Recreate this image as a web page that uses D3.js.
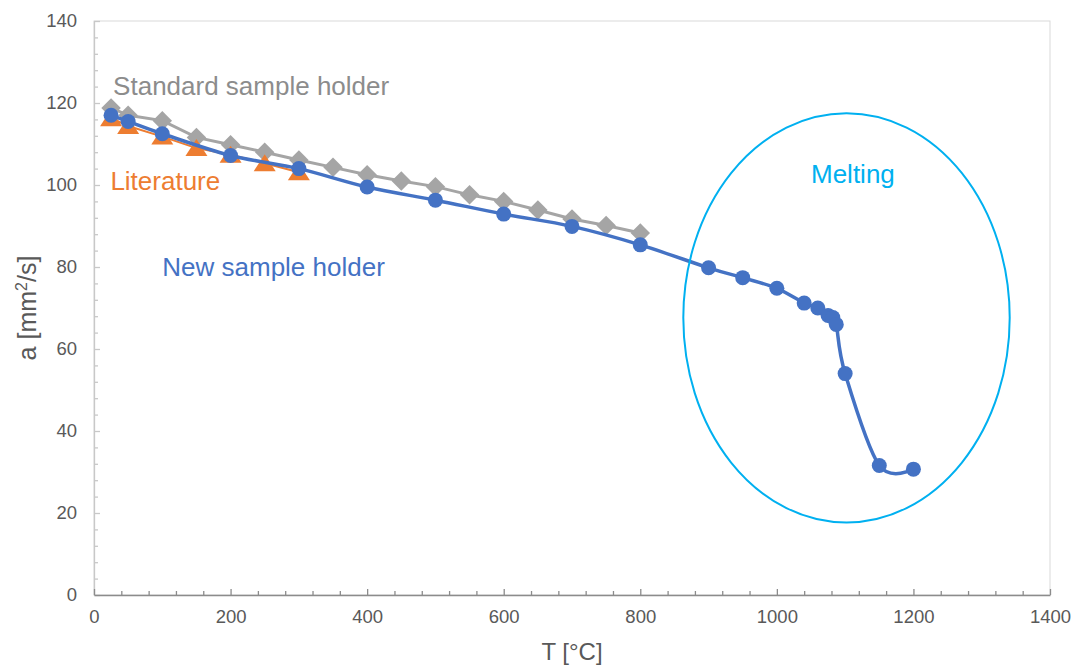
<!DOCTYPE html>
<html>
<head>
<meta charset="utf-8">
<script src="https://cdn.jsdelivr.net/npm/d3@7"></script>
<style>
  body { margin: 0; background: #fff; }
  svg { font-family: "Liberation Sans", Arial, sans-serif; }
</style>
</head>
<body>
<script>
"use strict";
// New sample holder
const newT = [25, 50, 100, 200, 300, 400, 500, 600, 700, 800, 900, 950, 1000, 1040, 1060, 1075, 1082, 1087, 1100, 1150, 1200];
const newA = [117, 115.5, 112.5, 107.2, 104, 99.5, 96.3, 92.9, 89.9, 85.4, 79.8, 77.4, 74.8, 71.2, 70, 68.2, 67.7, 66, 54, 31.6, 30.7];
// Standard sample holder
const stdT = [25, 50, 100, 150, 200, 250, 300, 350, 400, 450, 500, 550, 600, 650, 700, 750, 800];
const stdA = [118.8, 117, 115.7, 111.6, 109.8, 108, 106.1, 104.3, 102.5, 101, 99.6, 97.6, 96, 93.9, 91.7, 90.1, 88.3];
// Literature
const litT = [25, 50, 100, 150, 200, 250, 300];
const litA = [116.3, 114.4, 111.8, 109, 107.4, 105.3, 103.1];

const xTicks = [0, 200, 400, 600, 800, 1000, 1200, 1400];
const yTicks = [0, 20, 40, 60, 80, 100, 120, 140];
// melting annotation (data units): center T, center a, radius T, radius a
const melt = { t: 1102, a: 67.6, rt: 239, ra: 49.9 };

const width = 1074, height = 666;
const margin = { left: 94, right: 24, top: 21, bottom: 71 };

const svg = d3.select("body").append("svg")
    .attr("width", width)
    .attr("height", height);

const x = d3.scaleLinear().domain([0, 1400]).range([margin.left, width - margin.right]);
const y = d3.scaleLinear().domain([0, 140]).range([height - margin.bottom, margin.top]);

// plot frame
svg.append("rect")
    .attr("x", x(0)).attr("y", y(140))
    .attr("width", x(1400) - x(0)).attr("height", y(0) - y(140))
    .attr("fill", "none").attr("stroke", "#d9d9d9").attr("stroke-width", 1);

// minor ticks
const minorX = d3.range(0, 1401, 40).filter(v => v % 200 !== 0);
const minorY = d3.range(0, 141, 4).filter(v => v % 20 !== 0);

// y axis (lighter)
svg.append("g").attr("class", "yax")
    .attr("transform", `translate(${x(0)},0)`)
    .call(d3.axisLeft(y).tickValues(yTicks).tickFormat(d3.format("d"))
        .tickSizeInner(-6).tickSizeOuter(0).tickPadding(17));
svg.append("g").attr("class", "yax").attr("transform", `translate(${x(0)},0)`)
    .call(d3.axisLeft(y).tickValues(minorY).tickSize(-4).tickFormat(""))
    .call(g => g.select(".domain").remove());
svg.selectAll(".yax .domain, .yax .tick line").attr("stroke", "#c8c8c8").attr("stroke-width", 1.3);

// x axis (darker)
svg.append("g").attr("class", "xax")
    .attr("transform", `translate(0,${y(0)})`)
    .call(d3.axisBottom(x).tickValues(xTicks).tickFormat(d3.format("d"))
        .tickSizeInner(-6).tickSizeOuter(0).tickPadding(15));
svg.append("g").attr("class", "xax").attr("transform", `translate(0,${y(0)})`)
    .call(d3.axisBottom(x).tickValues(minorX).tickSize(-4).tickFormat(""))
    .call(g => g.select(".domain").remove());
svg.selectAll(".xax .domain, .xax .tick line").attr("stroke", "#8c8c8c").attr("stroke-width", 1.3);

svg.selectAll(".tick text").attr("fill", "#595959").style("font-size", "18.5px")
    .style("font-family", "'Liberation Sans', Arial, sans-serif");

// axis titles
svg.append("text")
    .attr("x", (x(0) + x(1400)) / 2).attr("y", 660)
    .attr("text-anchor", "middle").attr("fill", "#595959")
    .style("font-size", "24px").text("T [°C]");
const yTitle = svg.append("text")
    .attr("transform", `translate(36,${(y(0) + y(140)) / 2}) rotate(-90)`)
    .attr("text-anchor", "middle").attr("fill", "#595959")
    .style("font-size", "25px");
yTitle.append("tspan").text("a [mm");
yTitle.append("tspan").attr("dy", -9).style("font-size", "16px").text("2");
yTitle.append("tspan").attr("dy", 9).text("/s]");

// standard sample holder
const stdData = stdT.map((t, i) => [t, stdA[i]]);
svg.append("path").datum(stdData)
    .attr("fill", "none").attr("stroke", "#a5a5a5").attr("stroke-width", 3)
    .attr("d", d3.line().x(d => x(d[0])).y(d => y(d[1])));
svg.selectAll(".dia").data(stdData).enter().append("path")
    .attr("transform", d => `translate(${x(d[0])},${y(d[1])}) rotate(45)`)
    .attr("d", d3.symbol().type(d3.symbolSquare).size(190))
    .attr("fill", "#a5a5a5");

// literature
const litData = litT.map((t, i) => [t, litA[i]]);
svg.append("path").datum(litData)
    .attr("fill", "none").attr("stroke", "#ed7d31").attr("stroke-width", 2)
    .attr("d", d3.line().x(d => x(d[0])).y(d => y(d[1])));
svg.selectAll(".tri").data(litData).enter().append("path")
    .attr("transform", d => `translate(${x(d[0])},${y(d[1])})`)
    .attr("d", "M0,-9L11,8L-11,8Z")
    .attr("fill", "#ed7d31");

// new sample holder
const newData = newT.map((t, i) => [t, newA[i]]);
svg.append("path").datum(newData)
    .attr("fill", "none").attr("stroke", "#4472c4").attr("stroke-width", 3.5)
    .attr("d", d3.line().x(d => x(d[0])).y(d => y(d[1])).curve(d3.curveCardinal.tension(0)));
svg.selectAll(".dot").data(newData).enter().append("circle")
    .attr("cx", d => x(d[0])).attr("cy", d => y(d[1])).attr("r", 7.5)
    .attr("fill", "#4472c4");

// melting ellipse
svg.append("ellipse")
    .attr("cx", x(melt.t)).attr("cy", y(melt.a))
    .attr("rx", x(melt.rt) - x(0)).attr("ry", y(0) - y(melt.ra))
    .attr("fill", "none").attr("stroke", "#00b0f0").attr("stroke-width", 2);

// labels
const labels = [
  { text: "Standard sample holder", t: 28, a: 122, color: "#8c8c8c" },
  { text: "Literature", t: 24, a: 98.8, color: "#ed7d31" },
  { text: "New sample holder", t: 100, a: 77.7, color: "#4472c4" },
  { text: "Melting", t: 1050, a: 100.6, color: "#00b0f0" }
];
svg.selectAll(".lab").data(labels).enter().append("text")
    .attr("x", d => x(d.t)).attr("y", d => y(d.a))
    .attr("fill", d => d.color)
    .style("font-size", "26px")
    .text(d => d.text);
</script>
</body>
</html>
